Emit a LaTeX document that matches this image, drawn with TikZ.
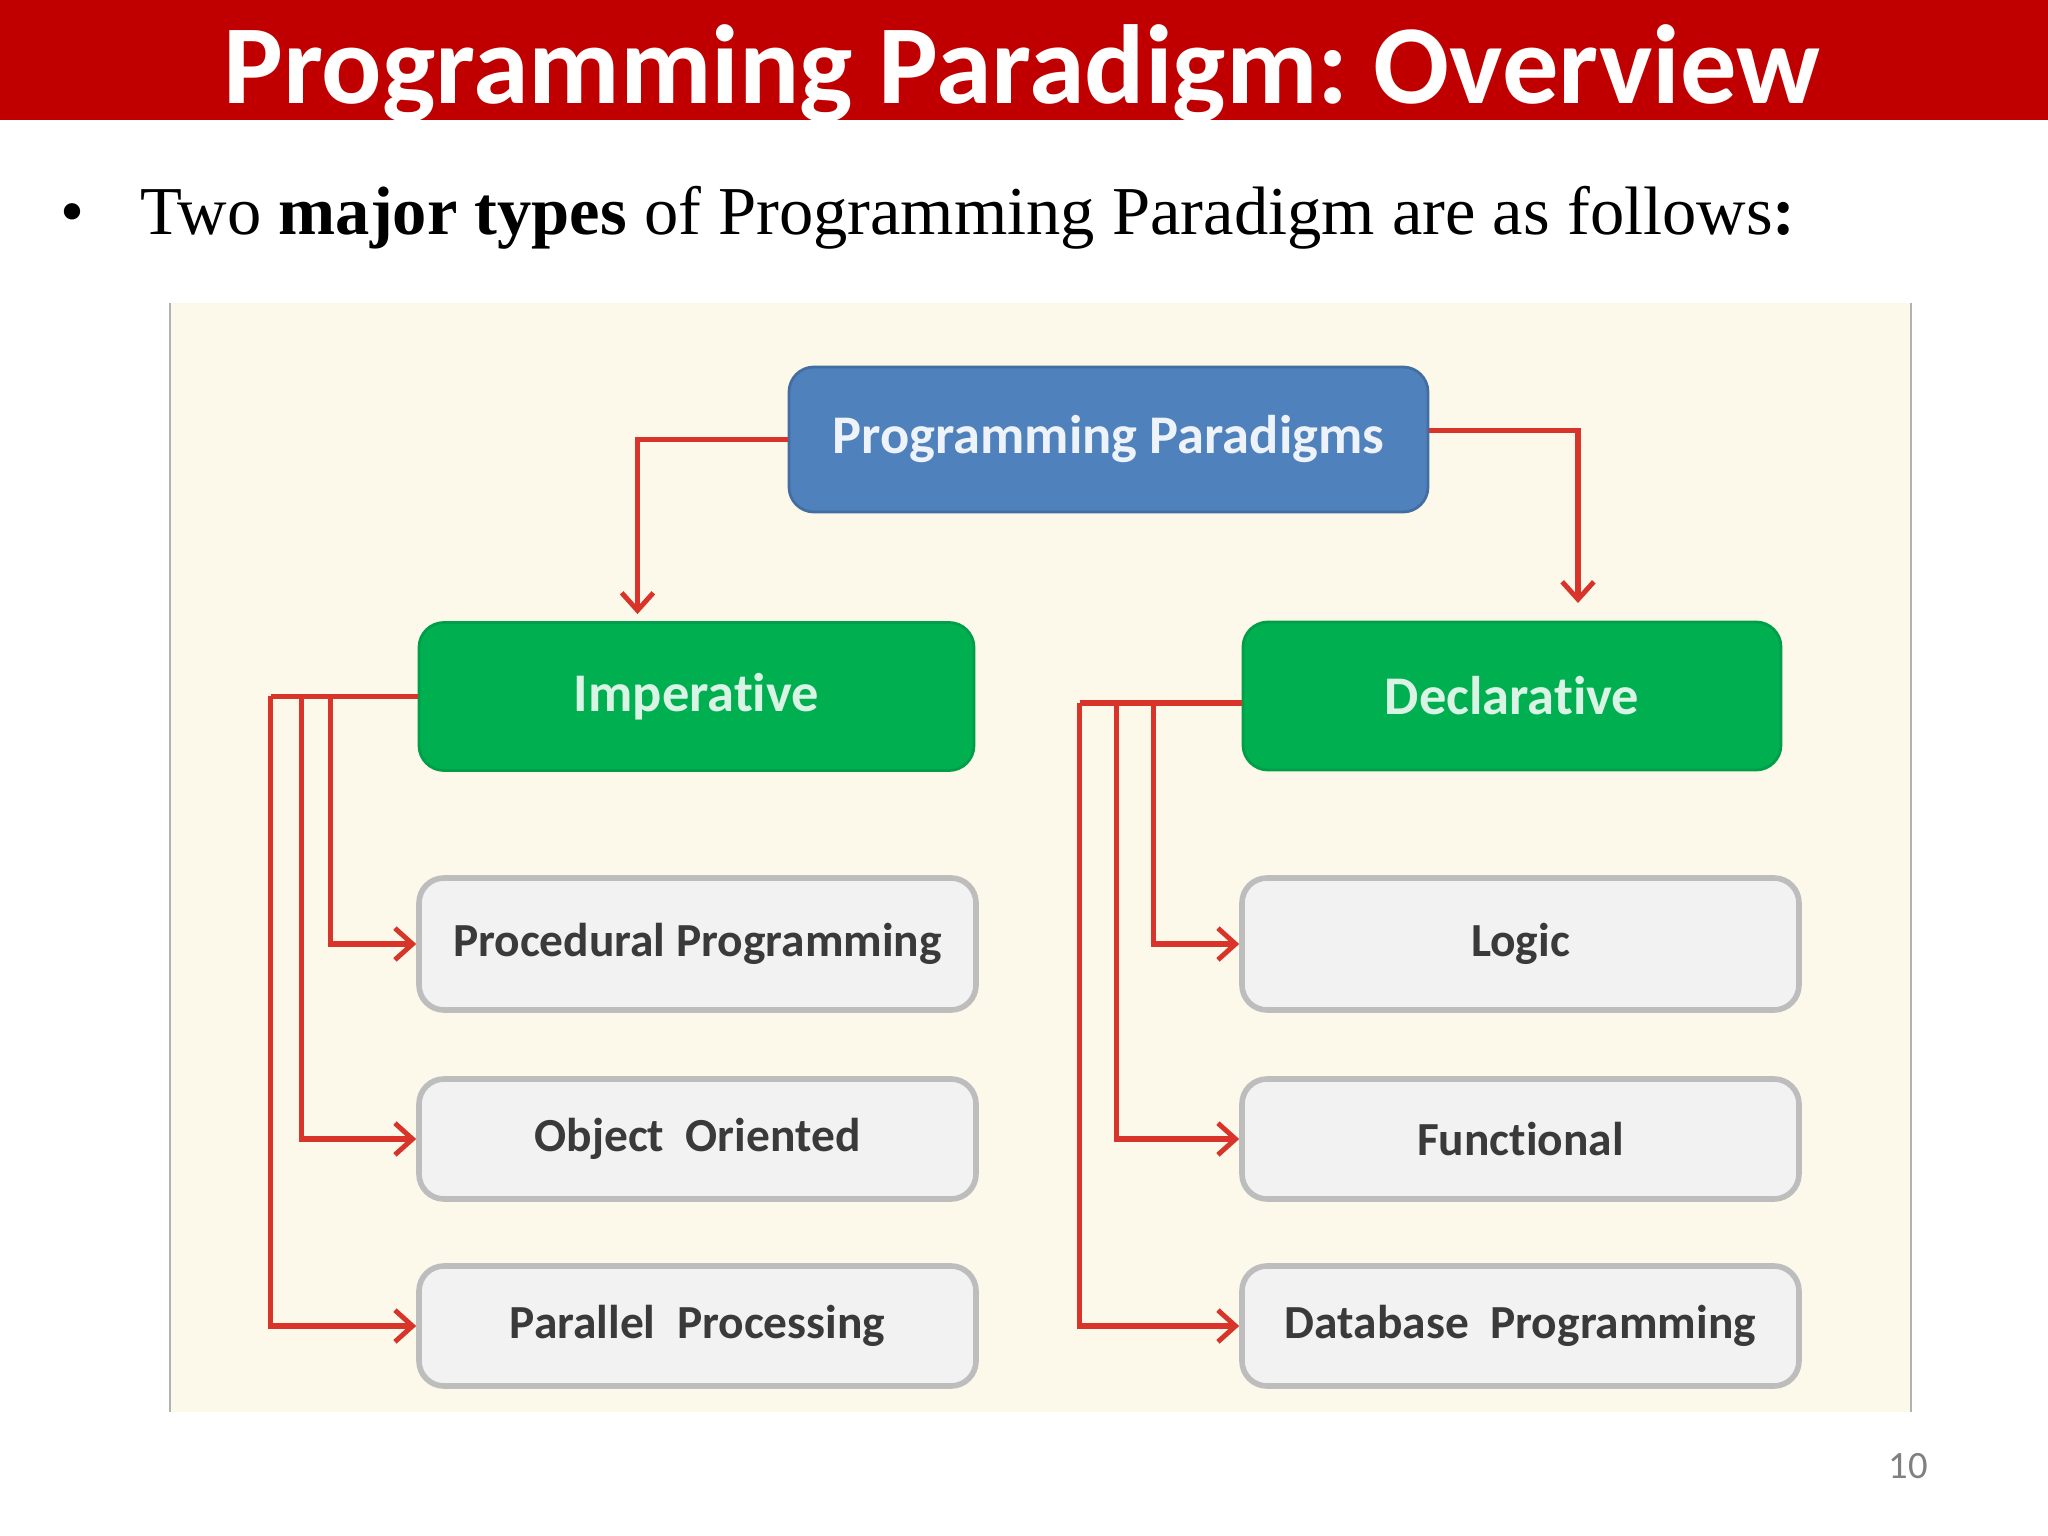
\documentclass[tikz,border=0pt]{standalone}
\usepackage{fontspec}
\setmainfont{Liberation Serif}
\newfontfamily\calibri[Ligatures=NoCommon]{Carlito}
\usetikzlibrary{arrows.meta,calc}
\frenchspacing
\definecolor{titlered}{HTML}{C00000}
\definecolor{cream}{HTML}{FCF9EA}
\definecolor{ppblue}{HTML}{4F81BD}
\definecolor{typegreen}{HTML}{00B050}
\definecolor{itemgray}{HTML}{F2F2F2}
\definecolor{itemedge}{HTML}{BDBDBD}
\definecolor{linkred}{HTML}{D8342A}
\definecolor{labelgray}{HTML}{3A3A3A}
\tikzset{
  topbox/.style={draw=ppblue!85!black, fill=ppblue, rounded corners=2.5mm, line width=0.8pt,
    minimum width=6.39cm, minimum height=1.45cm, text=white!90!ppblue,
    font=\calibri\bfseries\fontsize{15.5}{19}\selectfont},
  typebox/.style={draw=typegreen!90!black, fill=typegreen, rounded corners=2.5mm, line width=0.8pt,
    minimum height=1.48cm, text=white!85!typegreen,
    font=\calibri\bfseries\fontsize{15.5}{19}\selectfont},
  itembox/.style={draw=itemedge, fill=itemgray, rounded corners=2.5mm, line width=1.6pt,
    minimum width=5.57cm, text=labelgray,
    font=\calibri\bfseries\fontsize{13.5}{16}\selectfont},
  link/.style={draw=linkred, line width=1.6pt},
  linkarrow/.style={link, -{Straight Barb[length=5pt,width=9pt,line width=1.4pt]}}
}
\begin{document}
\begin{tikzpicture}
\useasboundingbox (0,0) rectangle (20.48,-15.36);
% Title bar
\fill[titlered] (0,0) rectangle (20.48,-1.20);
\node[anchor=base, text=white, font=\calibri\bfseries\fontsize{32}{38}\selectfont] (title) at (10.22,-1.04) {Programming Paradigm: Overview};
% Bullet line
\node[anchor=base west, inner sep=0pt, font=\fontsize{19.5}{24}\selectfont] (bullet) at (0.60,-2.35) {\textbullet};
\node[anchor=base west, inner sep=0pt, font=\fontsize{19.5}{24}\selectfont] (intro) at (1.40,-2.35) {Two \textbf{major types} of Programming Paradigm are as follows\textbf{:}};
% Picture background
\fill[cream] (1.70,-3.03) rectangle (19.11,-14.12);
\draw[gray!60, line width=0.8pt] (1.70,-3.03) -- (1.70,-14.12);
\draw[gray!60, line width=0.8pt] (19.11,-3.03) -- (19.11,-14.12);
% Boxes
\node[topbox] (pp) at (11.085,-4.395) {Programming Paradigms};
\node[typebox, minimum width=5.55cm] (imp) at (6.965,-6.965) {Imperative};
\node[typebox, minimum width=5.38cm] (dec) at (15.12,-6.96) {Declarative};
\node[itembox, minimum height=1.32cm] (pro) at (6.975,-9.44) {Procedural Programming};
\node[itembox, minimum height=1.20cm] (obj) at (6.975,-11.39) {Object~~Oriented};
\node[itembox, minimum height=1.20cm] (par) at (6.975,-13.26) {Parallel~~Processing};
\node[itembox, minimum height=1.32cm] (log) at (15.205,-9.44) {Logic};
\node[itembox, minimum height=1.20cm] (fun) at (15.205,-11.39) {Functional};
\node[itembox, minimum height=1.20cm] (dbp) at (15.205,-13.26) {Database~~Programming};
% Connectors from the root
\draw[linkarrow, shorten >=2pt] (pp.west) -| ([xshift=-5.9mm]imp.north);
\draw[linkarrow, shorten >=5pt] ([yshift=0.9mm]pp.east) -| ([xshift=6.6mm]dec.north);
% Imperative branches
\draw[link] (imp.west) -- ++(-1.47,0);
\draw[linkarrow] ([xshift=-0.87cm]imp.west) |- (pro.west);
\draw[linkarrow] ([xshift=-1.16cm]imp.west) |- (obj.west);
\draw[linkarrow] ([xshift=-1.47cm]imp.west) |- (par.west);
% Declarative branches
\draw[link] ([yshift=-0.7mm]dec.west) -- ++(-1.62,0);
\draw[linkarrow] ([xshift=-0.88cm,yshift=-0.7mm]dec.west) |- (log.west);
\draw[linkarrow] ([xshift=-1.25cm,yshift=-0.7mm]dec.west) |- (fun.west);
\draw[linkarrow] ([xshift=-1.62cm,yshift=-0.7mm]dec.west) |- (dbp.west);
% Page number
\node[anchor=base, text=gray, font=\calibri\fontsize{11}{14}\selectfont] (page) at (19.08,-14.78) {10};
\end{tikzpicture}
\end{document}
